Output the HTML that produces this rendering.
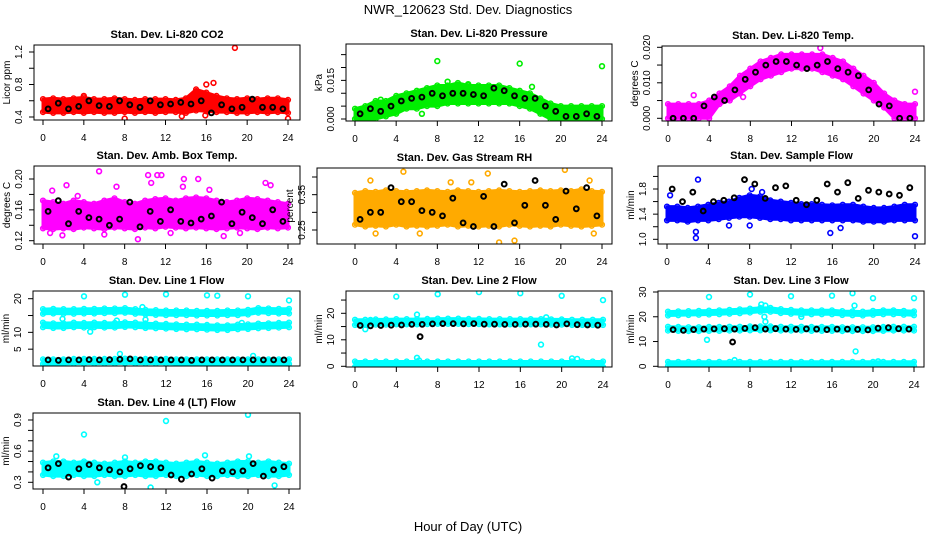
<!DOCTYPE html>
<html><head><meta charset="utf-8"><style>
body{margin:0;background:#fff;}
svg text{font-family:"Liberation Sans",sans-serif;}
</style></head><body>
<svg id="c" width="936" height="540" xmlns="http://www.w3.org/2000/svg">
<rect width="936" height="540" fill="#fff"/>
<text x="468" y="14" text-anchor="middle" font-size="13">NWR_120623 Std. Dev. Diagnostics</text>
<text x="468" y="531" text-anchor="middle" font-size="13">Hour of Day (UTC)</text>
</svg>
<script>
const hours=[0,1,2,3,4,5,6,7,8,9,10,11,12,13,14,15,16,17,18,19,20,21,22,23,24];
const blackHours=[0.5,1.5,2.5,3.5,4.5,5.5,6.5,7.5,8.5,9.5,10.5,11.5,12.5,13.5,14.5,15.5,16.5,17.5,18.5,19.5,20.5,21.5,22.5,23.5];
const xTickLabels=["0","4","8","12","16","20","24"];

const co2Lo=[0.46,0.45,0.45,0.46,0.45,0.46,0.45,0.45,0.46,0.45,0.46,0.45,0.46,0.46,0.45,0.48,0.47,0.46,0.46,0.45,0.45,0.46,0.45,0.46,0.45];
const co2Hi=[0.62,0.63,0.62,0.63,0.64,0.62,0.62,0.63,0.62,0.61,0.62,0.62,0.62,0.61,0.63,0.74,0.70,0.66,0.63,0.62,0.63,0.62,0.63,0.63,0.61];
const co2Black=[0.5,0.57,0.5,0.53,0.6,0.54,0.53,0.6,0.55,0.52,0.6,0.55,0.56,0.58,0.56,0.6,0.45,0.55,0.5,0.52,0.62,0.52,0.52,0.5];
const co2Out=[[18.8,1.25],[16,0.8],[16.7,0.82],[8,0.38],[24,0.38],[15.9,0.42],[4,0.66],[13.6,0.41]];

const presLo=[0,0,0,0.001,0.002,0.004,0.004,0.005,0.005,0.006,0.006,0.006,0.006,0.006,0.006,0.006,0.005,0.004,0.002,0,0,0,0,0,0];
const presHi=[0.004,0.005,0.007,0.007,0.009,0.01,0.011,0.012,0.013,0.013,0.014,0.013,0.013,0.013,0.013,0.012,0.011,0.01,0.008,0.006,0.005,0.005,0.005,0.005,0.005];
const presBlack=[0.002,0.004,0.003,0.005,0.007,0.008,0.0085,0.01,0.009,0.01,0.01,0.0095,0.009,0.012,0.011,0.009,0.008,0.008,0.005,0.003,0.001,0.001,0.002,0.001];
const presOut=[[8,0.0225],[16,0.0215],[24,0.0205],[2.5,0.0075],[6.5,0.002],[9,0.0145],[11,0.0135],[17.2,0.0125]];

const tempLo=[0,0,0,0,0,0.004,0.005,0.007,0.009,0.011,0.012,0.013,0.014,0.014,0.014,0.013,0.012,0.011,0.009,0.007,0.005,0.003,0,0,0];
const tempHi=[0.004,0.004,0.004,0.004,0.005,0.007,0.009,0.012,0.014,0.016,0.017,0.018,0.018,0.018,0.018,0.018,0.017,0.016,0.014,0.012,0.01,0.007,0.005,0.004,0.004];
const tempBlack=[0,0,0,0.0035,0.006,0.005,0.008,0.011,0.013,0.015,0.016,0.016,0.015,0.014,0.015,0.016,0.014,0.013,0.012,0.008,0.004,0.0035,0,0];
const tempOut=[[14.8,0.0198],[24,0.0075],[2.5,0.0065],[7.3,0.006]];

const ambLo=[0.136,0.135,0.136,0.135,0.137,0.136,0.135,0.137,0.136,0.135,0.137,0.136,0.138,0.137,0.136,0.137,0.136,0.135,0.136,0.137,0.136,0.135,0.137,0.136,0.137];
const ambHi=[0.172,0.17,0.168,0.172,0.17,0.168,0.172,0.175,0.17,0.168,0.172,0.174,0.175,0.172,0.175,0.176,0.175,0.172,0.17,0.172,0.175,0.174,0.172,0.17,0.168];
const ambBlack=[0.158,0.172,0.142,0.158,0.15,0.148,0.14,0.148,0.17,0.138,0.158,0.145,0.16,0.145,0.143,0.148,0.152,0.17,0.142,0.157,0.15,0.142,0.16,0.145];
const ambOut=[[5.5,0.21],[10.3,0.205],[11.2,0.205],[11.6,0.205],[13.8,0.2],[15.2,0.2],[21.8,0.195],[22.3,0.192],[2.3,0.192],[7.2,0.19],[0.7,0.13],[1.9,0.127],[6,0.128],[9.3,0.122],[12.5,0.13],[17.7,0.126],[19.3,0.13],[0.9,0.185],[13.7,0.19],[10.6,0.195],[3.4,0.178],[16.3,0.186]];

const rhLo=[0.265,0.26,0.262,0.26,0.265,0.26,0.262,0.26,0.262,0.265,0.26,0.262,0.26,0.262,0.26,0.265,0.262,0.26,0.262,0.26,0.265,0.262,0.26,0.262,0.265];
const rhHi=[0.355,0.36,0.358,0.362,0.36,0.358,0.36,0.362,0.36,0.358,0.362,0.36,0.358,0.36,0.362,0.36,0.358,0.36,0.362,0.36,0.362,0.36,0.365,0.36,0.358];
const rhBlack=[0.28,0.30,0.30,0.37,0.33,0.33,0.305,0.30,0.29,0.34,0.27,0.26,0.345,0.26,0.38,0.27,0.32,0.39,0.32,0.28,0.36,0.31,0.37,0.29];
const rhOut=[[1.5,0.39],[4.7,0.415],[12.9,0.41],[20.4,0.42],[22.8,0.39],[2,0.24],[6.3,0.24],[14,0.215],[15.5,0.22],[23.2,0.24],[9.3,0.385],[11.3,0.385]];

const flowLo=[1.3,1.3,1.28,1.3,1.3,1.32,1.34,1.36,1.36,1.34,1.32,1.32,1.3,1.3,1.3,1.3,1.3,1.3,1.3,1.28,1.28,1.28,1.3,1.3,1.3];
const flowHi=[1.52,1.52,1.5,1.52,1.55,1.58,1.6,1.66,1.7,1.68,1.62,1.6,1.58,1.56,1.56,1.55,1.54,1.55,1.55,1.52,1.5,1.5,1.52,1.55,1.55];
const flowBlack=[1.8,1.6,1.75,1.45,1.6,1.62,1.66,1.95,1.88,1.65,1.82,1.85,1.62,1.55,1.62,1.88,1.75,1.9,1.65,1.78,1.75,1.72,1.7,1.82];
const flowOut=[[3,1.95],[2.8,1.02],[2.8,1.12],[8,1.22],[15.8,1.1],[16.8,1.18],[24,1.05],[0.3,1.7],[6,1.22],[8.2,1.8],[9.2,1.75]];

const l1Upper=[16.2,16.3,16.2,16.2,16.3,16.3,16.4,16.4,16.5,16.2,16,15.9,15.8,15.8,15.8,15.7,15.7,15.7,15.8,15.8,16,16.5,16.4,16.3,16.3];
const l1Lower=[12.2,12,12,12.2,12.1,12.2,12.1,12.1,12.3,12.2,12,11.9,11.8,11.7,11.6,11.6,11.5,11.4,11.4,11.6,11.7,11.9,12,12.1,12.2];
const l1Base=[1.3,1.3,1.3,1.4,1.4,1.4,1.4,1.4,1.5,1.4,1.4,1.4,1.4,1.3,1.3,1.3,1.3,1.3,1.3,1.3,1.3,1.3,1.3,1.3,1.3];
const l1Black=[1.8,1.7,1.8,1.8,1.9,1.8,1.9,2,2.1,1.8,1.8,1.8,1.8,1.8,1.7,1.8,1.8,1.8,1.8,1.8,1.8,1.8,1.8,1.8];
const l1Out=[[4,20.7],[8,21.2],[12,21.3],[16,21],[17,20.9],[20,20.7],[24,19.5],[9.7,17.5],[1.9,14],[7.2,13.5],[4.6,10.2],[7.5,3.6],[20.5,3],[10,13.8],[19.4,12.8]];

const l2Upper=[16.6,16.6,16.7,16.7,16.8,16.8,16.8,16.9,17,17,17,16.9,16.9,16.8,16.8,16.8,16.8,16.8,16.8,16.7,16.7,16.6,16.6,16.6,16.6];
const l2Base=[0.8,0.8,0.8,0.8,0.8,0.8,0.8,0.8,0.8,0.8,0.8,0.8,0.8,0.8,0.8,0.8,0.8,0.8,0.8,0.8,0.8,0.8,0.8,0.8,0.8];
const l2Black=[15.4,15.3,15.4,15.5,15.6,15.8,15.8,16,16.1,16.1,16,16.1,15.9,15.9,15.8,15.8,15.9,15.9,15.8,15.6,16,15.7,15.6,15.5];
const l2Out=[[4,26.3],[8,27.2],[12,28],[16,27.6],[20,26.6],[24,25],[18,8.2],[21,3],[21.5,2.8],[6,3.2],[6.2,2.2],[1,14],[1.5,17.5],[18.5,18.5],[6,19.5]];
const l2BlackOut=[[6.3,11.2]];

const l3Upper=[21.3,21.4,21.5,21.6,21.7,21.8,22,22.2,22.5,22.8,22.8,22.3,22,21.8,21.8,21.8,21.8,21.5,21.4,21.3,21.6,21.8,21.8,21.6,21.4];
const l3Mid=[15.2,15.1,15,15,15.1,15.1,15.2,15.2,15.3,15.3,15.3,15.2,15.2,15.2,15.1,15.1,15.1,15,15,15,15,15.1,15.2,15.2,15.2];
const l3Base=[1,1,1,1,1,1,1,1,1,1,1,1,1,1,1,1,1,1,1,1,1,1,1,1,1];
const l3Black=[14.8,14.5,14.8,15,15.1,15.2,15,15.3,15.6,15,15.2,15,14.9,15.1,15,14.8,15,15,14.9,14.7,15.4,15.6,15.2,15];
const l3Out=[[4,28],[8,29],[12,28.3],[16,28.5],[18,29.5],[20,27.5],[24,27.5],[3.8,10.7],[18.3,6],[9.1,25],[9.5,24.5],[9.4,20],[9.5,18],[6.5,2.5],[20.5,2],[18.2,24.5],[13,20]];
const l3BlackOut=[[6.3,9.8]];

const l4Lo=[0.37,0.36,0.36,0.37,0.36,0.36,0.37,0.36,0.36,0.37,0.36,0.36,0.37,0.36,0.36,0.37,0.36,0.36,0.37,0.36,0.36,0.37,0.36,0.36,0.37];
const l4Hi=[0.49,0.5,0.5,0.49,0.5,0.49,0.48,0.49,0.5,0.49,0.5,0.5,0.49,0.48,0.49,0.5,0.49,0.48,0.49,0.5,0.5,0.49,0.5,0.49,0.48];
const l4Black=[0.44,0.48,0.35,0.43,0.47,0.44,0.42,0.4,0.43,0.46,0.45,0.44,0.37,0.33,0.38,0.43,0.34,0.41,0.4,0.41,0.48,0.36,0.42,0.45];
const l4Out=[[4,0.76],[12,0.89],[20,0.95],[10.5,0.25],[22.6,0.27],[1.3,0.55],[8,0.54],[15.8,0.56],[20.1,0.55],[5.3,0.3]];
const l4BlackOut=[[7.9,0.26]];

const NS="http://www.w3.org/2000/svg";
const svg=document.getElementById('c');
function mk(tag,attrs,parent){const e=document.createElementNS(NS,tag);for(const k in attrs)e.setAttribute(k,attrs[k]);(parent||svg).appendChild(e);return e;}

const panels=[
 {name:'co2',title:'Stan. Dev. Li-820 CO2',ylab:'Licor ppm',box:[34,300,45,120],x0:43,x24:288,yv:[0.4,1.2],yp:[117,52],ticks:[0.4,0.6,0.8,1.0,1.2],labs:[[0.4,'0.4'],[0.8,'0.8'],[1.2,'1.2']],col:'#ff0000',
  bands:[[co2Lo,co2Hi]],black:co2Black,out:co2Out},
 {name:'pressure',title:'Stan. Dev. Li-820 Pressure',ylab:'kPa',box:[346,612,44,121],x0:355,x24:602,yv:[0,0.02],yp:[119,67.5],ticks:[0,0.005,0.01,0.015,0.02,0.025],labs:[[0,'0.000'],[0.015,'0.015']],col:'#00ee00',
  bands:[[presLo,presHi]],black:presBlack,out:presOut},
 {name:'temp',title:'Stan. Dev. Li-820 Temp.',ylab:'degrees C',box:[662,924,46,121],x0:668,x24:915,yv:[0,0.02],yp:[118.3,47.3],ticks:[0,0.005,0.01,0.015,0.02],labs:[[0,'0.000'],[0.01,'0.010'],[0.02,'0.020']],col:'#ff00ff',
  bands:[[tempLo,tempHi]],black:tempBlack,out:tempOut},
 {name:'amb-box',title:'Stan. Dev. Amb. Box Temp.',ylab:'degrees C',box:[34,300,166,244],x0:43,x24:288,yv:[0.12,0.2],yp:[240.7,179],ticks:[0.12,0.14,0.16,0.18,0.2],labs:[[0.12,'0.12'],[0.16,'0.16'],[0.2,'0.20']],col:'#ff00ff',
  bands:[[ambLo,ambHi]],black:ambBlack,out:ambOut},
 {name:'rh',title:'Stan. Dev. Gas Stream RH',ylab:'percent',box:[317,612,168,244],x0:355,x24:602,yv:[0.25,0.4],yp:[230,177],ticks:[0.25,0.3,0.35,0.4],labs:[[0.25,'0.25'],[0.35,'0.35']],col:'#ffaa00',
  bands:[[rhLo,rhHi]],black:rhBlack,out:rhOut},
 {name:'sample-flow',title:'Stan. Dev. Sample Flow',ylab:'ml/min',box:[658,925,166,244],x0:667,x24:915,yv:[1,1.8],yp:[239.3,189],ticks:[1,1.2,1.4,1.6,1.8,2.0],labs:[[1,'1.0'],[1.4,'1.4'],[1.8,'1.8']],col:'#0000ff',
  bands:[[flowLo,flowHi]],black:flowBlack,out:flowOut},
 {name:'line1',title:'Stan. Dev. Line 1 Flow',ylab:'ml/min',box:[33,300,291,366],x0:43,x24:289,yv:[0,20],yp:[366,298.7],ticks:[5,10,15,20],labs:[[5,'5'],[10,'10'],[20,'20']],col:'#00ffff',
  centers:[l1Upper,l1Lower,l1Base],half:0.7,black:l1Black,out:l1Out},
 {name:'line2',title:'Stan. Dev. Line 2 Flow',ylab:'ml/min',box:[346,612,291,367],x0:355,x24:603,yv:[0,20],yp:[366.3,313.3],ticks:[0,5,10,15,20,25],labs:[[0,'0'],[10,'10'],[20,'20']],col:'#00ffff',
  centers:[l2Upper,l2Base],half:1.0,black:l2Black,out:l2Out,bout:l2BlackOut},
 {name:'line3',title:'Stan. Dev. Line 3 Flow',ylab:'ml/min',box:[658,924,291,367],x0:668,x24:914,yv:[0,30],yp:[366.3,292],ticks:[0,10,20,30],labs:[[0,'0'],[10,'10'],[20,'20'],[30,'30']],col:'#00ffff',
  centers:[l3Upper,l3Mid,l3Base],half:0.8,black:l3Black,out:l3Out,bout:l3BlackOut},
 {name:'line4',title:'Stan. Dev. Line 4 (LT) Flow',ylab:'ml/min',box:[33,300,413,489],x0:43,x24:289,yv:[0.3,0.9],yp:[482.3,420],ticks:[0.3,0.4,0.5,0.6,0.7,0.8,0.9],labs:[[0.3,'0.3'],[0.6,'0.6'],[0.9,'0.9']],col:'#00ffff',
  bands:[[l4Lo,l4Hi]],black:l4Black,out:l4Out,bout:l4BlackOut}
];

function circle(g,x,y,col,name,w){
  const c=mk('circle',{cx:x.toFixed(1),cy:y.toFixed(1),r:2.4,fill:'none',stroke:col,'stroke-width':w||1.4},g);
  
  
}

panels.forEach(p=>{
  const g=mk('g',{});
  
  
  const [bx0,bx1,by0,by1]=p.box;
  const X=h=>p.x0+(p.x24-p.x0)*h/24;
  const Y=v=>p.yp[0]+(p.yp[1]-p.yp[0])*(v-p.yv[0])/(p.yv[1]-p.yv[0]);
  const cp=mk('clipPath',{id:'cp-'+p.name},g);
  mk('rect',{x:bx0,y:by0,width:bx1-bx0,height:by1-by0},cp);
  const data=mk('g',{'clip-path':'url(#cp-'+p.name+')'},g);
  
  
  function band(lo,hi){
    let d='M'+hours.map((h,i)=>X(h).toFixed(1)+','+Y(hi[i]).toFixed(1)).join('L');
    d+='L'+hours.slice().reverse().map((h,j)=>{const i=hours.length-1-j;return X(h).toFixed(1)+','+Y(lo[i]).toFixed(1);}).join('L')+'Z';
    const pa=mk('path',{d:d,fill:p.col,stroke:p.col,'stroke-width':3,'stroke-linejoin':'round'},data);
    
    
    hours.forEach((h,i)=>{circle(data,X(h),Y(lo[i]),p.col,p.name+'-point');circle(data,X(h),Y(hi[i]),p.col,p.name+'-point');});
  }
  if(p.bands)p.bands.forEach(b=>band(b[0],b[1]));
  if(p.centers)p.centers.forEach(c=>band(c.map(v=>v-p.half),c.map(v=>v+p.half)));
  p.out.forEach(o=>circle(data,X(o[0]),Y(o[1]),p.col,p.name+'-outlier',1.6));
  p.black.forEach((v,i)=>circle(data,X(blackHours[i]),Y(v),'#000',p.name+'-hourly-point',2));
  if(p.bout)p.bout.forEach(o=>circle(data,X(o[0]),Y(o[1]),'#000',p.name+'-hourly-outlier',2));
  const r=mk('rect',{x:bx0,y:by0,width:bx1-bx0,height:by1-by0,fill:'none',stroke:'#000','stroke-width':1},g);
  
  
  xTickLabels.forEach(t=>{
    const x=X(+t);
    mk('line',{x1:x,x2:x,y1:by1,y2:by1+5,stroke:'#000'},g);
    const tx=mk('text',{x:x,y:by1+21,'text-anchor':'middle','font-size':10},g);
    tx.textContent=t;
    
    
  });
  p.ticks.forEach(t=>{const y=Y(t);if(y<by0-0.5||y>by1+0.5)return;mk('line',{x1:bx0-5,x2:bx0,y1:y,y2:y,stroke:'#000'},g);});
  p.labs.forEach(l=>{
    const y=Y(l[0]);
    const tx=mk('text',{x:0,y:0,'text-anchor':'middle','font-size':10,transform:'translate('+(bx0-12)+','+y.toFixed(1)+') rotate(-90)'},g);
    tx.textContent=l[1];
    
    
  });
  const yl=mk('text',{x:0,y:0,'text-anchor':'middle','font-size':10,transform:'translate('+(bx0-24)+','+((by0+by1)/2)+') rotate(-90)'},g);
  yl.textContent=p.ylab;
  
  
  const tt=mk('text',{x:(bx0+bx1)/2,y:by0-7,'text-anchor':'middle','font-size':11,'font-weight':'bold'},g);
  tt.textContent=p.title;
  
  
});
</script>
</body></html>
